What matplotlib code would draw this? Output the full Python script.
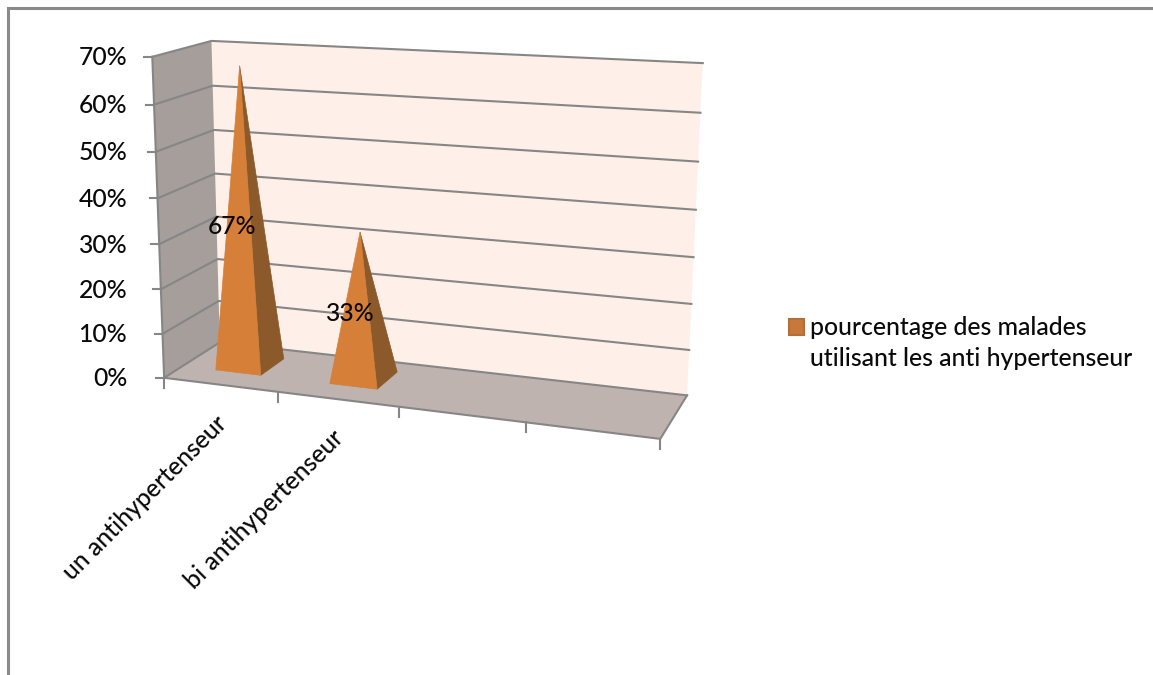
import numpy as np
import matplotlib
matplotlib.use("Agg")
import matplotlib.pyplot as plt
from matplotlib.patches import Polygon, Rectangle

plt.rcParams["font.family"] = ["Lato", "DejaVu Sans"]
plt.rcParams["font.weight"] = "medium"

# Chart data
categories = ["un antihypertenseur", "bi antihypertenseur"]
values = [0.67, 0.33]
value_labels = ["67%", "33%"]
y_ticks = [0.0, 0.1, 0.2, 0.3, 0.4, 0.5, 0.6, 0.7]
y_tick_labels = ["0%", "10%", "20%", "30%", "40%", "50%", "60%", "70%"]
series_name = "pourcentage des malades\nutilisant les anti hypertenseur"
n_slots = 4

# Camera: (slot fraction, value, depth) -> canvas pixel, solved as a projective matrix
anchors_3d = np.array([
    (0, 0, 0), (.25, 0, 0), (.5, 0, 0), (.75, 0, 0), (1, 0, 0),
    (0, .7, 0), (0, .35, 0),
    (0, 0, 1), (0, .7, 1), (1, .7, 1), (1, 0, 1), (1, .35, 1),
], dtype=float)
anchors_px = np.array([
    (167, 375), (278, 390), (398, 408), (525, 425), (661, 440),
    (150, 57), (159, 221),
    (218, 346), (213, 40), (703, 66), (687, 393), (695, 230),
], dtype=float)


def solve_camera(world, px):
    rows = []
    for (x, y, z), (a, b) in zip(world, px):
        rows.append([x, y, z, 1, 0, 0, 0, 0, -a * x, -a * y, -a * z, -a])
        rows.append([0, 0, 0, 0, x, y, z, 1, -b * x, -b * y, -b * z, -b])
    return np.linalg.svd(np.array(rows))[2][-1].reshape(3, 4)


CAM = solve_camera(anchors_3d, anchors_px)


def project(u, v, w):
    p = CAM @ np.array([u, v, w, 1.0])
    return p[0] / p[2], p[1] / p[2]


GRID = "#868686"
WALL_BACK = "#FEF0E9"
WALL_SIDE = "#A59E9A"
FLOOR = "#BEB3AF"
FACE_FRONT = "#D57F38"
FACE_SIDE = "#8C5A2A"
INK = "#0A0A0A"
FS = 17.8

fig = plt.figure(figsize=(11.53, 6.75), dpi=100, facecolor="white")
ax = fig.add_axes([0, 0, 1, 1])
ax.set_xlim(0, 1153)
ax.set_ylim(675, 0)
ax.axis("off")

# Outer chart frame (only top and left edges fall inside the canvas)
ax.plot([7.5, 7.5, 1153], [675, 7.5, 7.5], color="#8A8A8A", lw=2.2, solid_joinstyle="miter")

top = y_ticks[-1]
# Walls and floor
ax.add_patch(Polygon([project(0, 0, 1), project(1, 0, 1), project(1, top, 1), project(0, top, 1)],
                     fc=WALL_BACK, ec="none", zorder=1))
ax.add_patch(Polygon([project(0, 0, 0), project(0, 0, 1), project(0, top, 1), project(0, top, 0)],
                     fc=WALL_SIDE, ec="none", zorder=1))
ax.add_patch(Polygon([project(0, 0, 0), project(1, 0, 0), project(1, 0, 1), project(0, 0, 1)],
                     fc=FLOOR, ec="none", zorder=1))

# Gridlines across side and back walls, with outward ticks
for tick in y_ticks:
    pts = [project(0, tick, 0), project(0, tick, 1), project(1, tick, 1)]
    ax.plot(*zip(*pts), color=GRID, lw=1.5, zorder=2)
    x0, y0 = pts[0]
    ax.plot([x0 - 8, x0], [y0, y0], color=GRID, lw=1.5, zorder=2)

ax.plot(*zip(project(0, 0, 0), project(0, top, 0)), color=GRID, lw=1.5, zorder=2)
ax.plot(*zip(project(0, 0, 0), project(1, 0, 0), project(1, 0, 1)), color=GRID, lw=1.5, zorder=2)
for i in range(n_slots + 1):
    x0, y0 = project(i / n_slots, 0, 0)
    ax.plot([x0, x0], [y0, y0 + 10], color=GRID, lw=1.5, zorder=2)

# Pyramids, one per category
half_u = 0.05
w_front, w_back = 0.32, 0.77
w_apex = 0.48
for i, val in enumerate(values):
    uc = (i + 0.5) / n_slots
    apex = project(uc, val, w_apex)
    fl = project(uc - half_u, 0, w_front)
    fr = project(uc + half_u, 0, w_front)
    br = project(uc + half_u, 0, w_back)
    ax.add_patch(Polygon([fr, br, apex], fc=FACE_SIDE, ec=FACE_SIDE, lw=0.5, zorder=3))
    ax.add_patch(Polygon([fl, fr, apex], fc=FACE_FRONT, ec=FACE_FRONT, lw=0.5, zorder=4))
    lx, ly = project(uc, val / 2, w_apex)
    ax.text(lx - 11, ly + 7, value_labels[i], fontsize=FS, color=INK, ha="center", va="center", zorder=5)

# Value axis labels
for tick, lab in zip(y_ticks, y_tick_labels):
    x0, y0 = project(0, tick, 0)
    ax.text(127, y0 + 1, lab, fontsize=FS, color=INK, ha="right", va="center")

# Category labels, rotated below the front edge
for i, name in enumerate(categories):
    x0, y0 = project((i + 0.5) / n_slots, 0, 0)
    ax.text(x0 - 6, y0 + 27, name, fontsize=FS, color=INK, rotation=45,
            ha="right", va="top", rotation_mode="anchor")

# Legend
ax.add_patch(Rectangle((788.5, 318.5), 15, 16, fc="#C8783A", ec="#B0703C", lw=1.5, zorder=3))
ax.text(810, 343, series_name, fontsize=FS, color=INK, ha="left", va="center", linespacing=1.43)

fig.savefig("out.png", dpi=100, facecolor="white")
